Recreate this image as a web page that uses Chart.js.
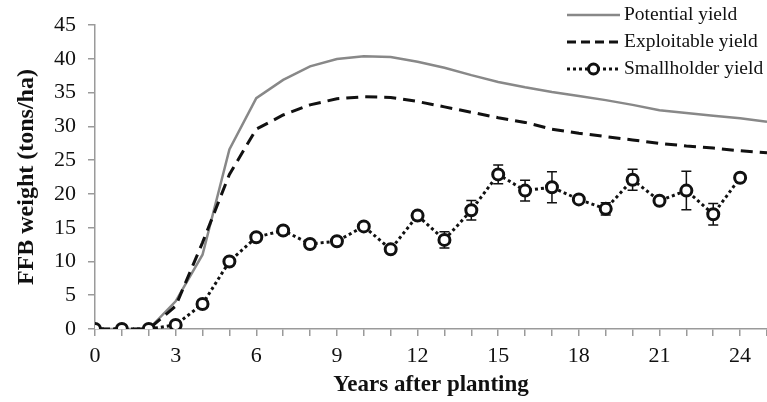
<!DOCTYPE html>
<html>
<head>
<meta charset="utf-8">
<script src="https://cdn.jsdelivr.net/npm/chart.js@4"></script>
<style>
  body { margin: 0; background: #fff; }
  #wrap { width: 767px; height: 402px; }
</style>
</head>
<body>
<div id="wrap"><canvas id="yieldChart" width="767" height="402"></canvas></div>
<script>
// --- data ---
const years = [0, 1, 2, 3, 4, 5, 6, 7, 8, 9, 10, 11, 12, 13, 14, 15, 16, 17, 18, 19, 20, 21, 22, 23, 24, 25];
const potentialYield = [0, 0, 0, 4.1, 11.0, 26.6, 34.2, 36.9, 38.9, 40.0, 40.4, 40.3, 39.6, 38.7, 37.6, 36.6, 35.8, 35.1, 34.5, 33.9, 33.2, 32.4, 32.0, 31.6, 31.2, 30.7];
const exploitableYield = [0, 0, 0, 3.4, 12.8, 22.9, 29.6, 31.7, 33.2, 34.1, 34.4, 34.3, 33.7, 32.9, 32.1, 31.3, 30.6, 29.6, 29.0, 28.5, 28.0, 27.5, 27.1, 26.8, 26.4, 26.1];
const smallholderYears = [0, 1, 2, 3, 4, 5, 6, 7, 8, 9, 10, 11, 12, 13, 14, 15, 16, 17, 18, 19, 20, 21, 22, 23, 24];
const smallholderYield = [0, 0, 0, 0.6, 3.7, 10.0, 13.6, 14.6, 12.6, 13.0, 15.2, 11.8, 16.8, 13.2, 17.6, 22.9, 20.5, 21.0, 19.2, 17.8, 22.1, 19.0, 20.5, 17.0, 22.4];
const smallholderErr = [0, 0, 0, 0, 0, 0, 0.4, 0.4, 0.3, 0.3, 0.4, 0.3, 0.6, 1.2, 1.45, 1.4, 1.55, 2.3, 0.5, 0.9, 1.55, 0.4, 2.85, 1.6, 0.4];
const yTicks = [0, 5, 10, 15, 20, 25, 30, 35, 40, 45];
const legendLabels = ['Potential yield', 'Exploitable yield', 'Smallholder yield'];

const serif = "'Liberation Serif', 'Times New Roman', serif";
const axisGrey = '#9a9a9a';
const potentialGrey = '#888888';

// error bars drawn under the markers
const errorBars = {
    id: 'errorBars',
    beforeDatasetsDraw(chart) {
        const { ctx, scales: { x, y } } = chart;
        ctx.save();
        ctx.strokeStyle = '#111';
        ctx.lineWidth = 1.5;
        smallholderYears.forEach((yr, i) => {
            const e = smallholderErr[i];
            if (!e) return;
            const px = x.getPixelForValue(yr);
            const top = y.getPixelForValue(smallholderYield[i] + e);
            const bot = y.getPixelForValue(smallholderYield[i] - e);
            ctx.beginPath();
            ctx.moveTo(px, top); ctx.lineTo(px, bot);
            ctx.moveTo(px - 5, top); ctx.lineTo(px + 5, top);
            ctx.moveTo(px - 5, bot); ctx.lineTo(px + 5, bot);
            ctx.stroke();
        });
        ctx.restore();
    }
};

// legend with line samples, top right
const lineLegend = {
    id: 'lineLegend',
    afterDraw(chart) {
        const { ctx } = chart;
        const x0 = 567, x1 = 620, rows = [15, 42, 69];
        ctx.save();
        ctx.font = '19.5px ' + serif;
        ctx.fillStyle = '#111';
        ctx.textBaseline = 'middle';
        legendLabels.forEach((label, i) => {
            const yy = rows[i];
            ctx.beginPath();
            if (i === 0) {
                ctx.strokeStyle = potentialGrey; ctx.lineWidth = 2.5; ctx.setLineDash([]);
            } else if (i === 1) {
                ctx.strokeStyle = '#111'; ctx.lineWidth = 3; ctx.setLineDash([9, 5]);
            } else {
                ctx.strokeStyle = '#111'; ctx.lineWidth = 3; ctx.setLineDash([3, 3]);
            }
            ctx.moveTo(x0, yy); ctx.lineTo(x1, yy);
            ctx.stroke();
            ctx.setLineDash([]);
            if (i === 2) {
                ctx.beginPath();
                ctx.arc((x0 + x1) / 2, yy, 5, 0, Math.PI * 2);
                ctx.fillStyle = '#fff'; ctx.fill();
                ctx.lineWidth = 3; ctx.strokeStyle = '#111'; ctx.stroke();
                ctx.fillStyle = '#111';
            }
            ctx.fillText(label, x1 + 4, yy);
        });
        ctx.restore();
    }
};

new Chart(document.getElementById('yieldChart'), {
    type: 'line',
    data: {
        datasets: [
            {
                label: legendLabels[2],
                data: smallholderYears.map((yr, i) => ({ x: yr, y: smallholderYield[i] })),
                borderColor: '#111',
                borderWidth: 3,
                borderDash: [3, 3],
                pointRadius: 5.5,
                pointBorderWidth: 3,
                pointBackgroundColor: '#fff',
                pointBorderColor: '#111',
                tension: 0
            },
            {
                label: legendLabels[1],
                data: years.map((yr, i) => ({ x: yr, y: exploitableYield[i] })),
                borderColor: '#111',
                borderWidth: 3,
                borderDash: [12, 7],
                pointRadius: 0,
                tension: 0
            },
            {
                label: legendLabels[0],
                data: years.map((yr, i) => ({ x: yr, y: potentialYield[i] })),
                borderColor: potentialGrey,
                borderWidth: 2.5,
                pointRadius: 0,
                tension: 0
            }
        ]
    },
    options: {
        responsive: false,
        animation: false,
        // the plot runs right up to the page edge
        layout: { autoPadding: false, padding: { top: 19, right: 0, left: 0, bottom: 0 } },
        plugins: { legend: { display: false }, tooltip: { enabled: false } },
        scales: {
            x: {
                type: 'linear',
                min: 0, max: 25,
                afterFit: s => { s.height = 73; s.paddingLeft = 0; s.paddingRight = 0; },
                ticks: {
                    stepSize: 1, autoSkip: false, maxRotation: 0, padding: 7,
                    color: '#111', font: { family: serif, size: 22 },
                    callback: v => (v % 3 === 0 && v < 25) ? String(v) : ''
                },
                grid: { drawOnChartArea: false, tickLength: 7, color: axisGrey, lineWidth: 1.5 },
                border: { color: axisGrey, width: 1.5 },
                title: {
                    display: true, text: 'Years after planting', color: '#111',
                    font: { family: serif, size: 23, weight: 'bold' },
                    padding: { top: 0, bottom: 3 }
                }
            },
            y: {
                min: 0, max: 45,
                afterFit: s => { s.width = 95; },
                afterBuildTicks: s => { s.ticks = yTicks.map(v => ({ value: v })); },
                ticks: {
                    padding: 12, color: '#111', font: { family: serif, size: 22 }
                },
                grid: { drawOnChartArea: false, tickLength: 7, color: axisGrey, lineWidth: 1.5 },
                border: { color: axisGrey, width: 1.5 },
                title: {
                    display: true, text: 'FFB weight (tons/ha)', color: '#111',
                    font: { family: serif, size: 24, weight: 'bold' },
                    padding: { top: 12, bottom: 0 }
                }
            }
        }
    },
    plugins: [errorBars, lineLegend]
});
</script>
</body>
</html>
